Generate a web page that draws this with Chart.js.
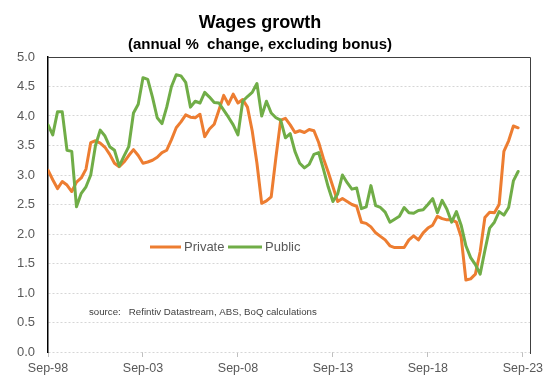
<!DOCTYPE html>
<html>
<head>
<meta charset="utf-8">
<script src="https://cdn.jsdelivr.net/npm/chart.js@4"></script>
<style>
  html, body { margin: 0; padding: 0; background: #fff; }
  #wrap { width: 553px; height: 378px; position: relative; }
</style>
</head>
<body>
<div id="wrap"><canvas id="wages-chart" width="553" height="378"></canvas></div>
<script>
// quarterly, annual % change excl. bonus, Sep-98 .. Jun-23
const privateWages = [
  3.08, 2.92, 2.77, 2.89, 2.83, 2.72, 2.88, 2.95, 3.1, 3.55,
  3.58, 3.54, 3.47, 3.35, 3.2, 3.14, 3.22, 3.33, 3.43, 3.33,
  3.2, 3.22, 3.25, 3.3, 3.38, 3.42, 3.6, 3.8, 3.9, 4.02,
  3.98, 3.97, 4.03, 3.65, 3.78, 3.86, 4.1, 4.35, 4.2, 4.37,
  4.22, 4.28, 4.15, 3.75, 3.2, 2.52, 2.56, 2.63, 3.3, 3.93,
  3.96, 3.85, 3.72, 3.75, 3.72, 3.77, 3.75, 3.55, 3.28, 3.05,
  2.8, 2.55, 2.6, 2.55, 2.5, 2.47, 2.2, 2.18, 2.12, 2.02,
  1.96, 1.9, 1.8, 1.77, 1.77, 1.77, 1.9, 1.97, 1.9, 2.02,
  2.1, 2.15, 2.3, 2.26, 2.24, 2.24, 2.2, 1.95, 1.22, 1.24,
  1.32, 1.7, 2.28, 2.37, 2.36, 2.5, 3.4, 3.58, 3.83, 3.8
];
const publicWages = [
  3.85, 3.68, 4.07, 4.07, 3.42, 3.4, 2.46, 2.69, 2.8, 3.0,
  3.5, 3.76, 3.66, 3.48, 3.42, 3.15, 3.32, 3.48, 4.05, 4.2,
  4.65, 4.62, 4.32, 3.97, 3.87, 4.15, 4.5, 4.7, 4.68, 4.57,
  4.15, 4.25, 4.22, 4.4, 4.32, 4.23, 4.22, 4.1, 3.98, 3.85,
  3.68, 4.25, 4.33, 4.4, 4.55, 4.0, 4.25, 4.05, 3.97, 3.93,
  3.63, 3.7, 3.4, 3.2, 3.12, 3.18, 3.35, 3.38, 3.1, 2.8,
  2.55, 2.68, 3.0, 2.87, 2.76, 2.78, 2.43, 2.46, 2.82, 2.48,
  2.45, 2.37, 2.2, 2.25, 2.3, 2.45, 2.36, 2.35, 2.4, 2.41,
  2.5, 2.6, 2.36, 2.57, 2.42, 2.2, 2.38, 2.15, 1.8, 1.6,
  1.48, 1.32, 1.72, 2.1, 2.2, 2.38, 2.32, 2.45, 2.9, 3.06
];
// x tick labels, one every 20 quarters
const xTickLabels = ["Sep-98", "Sep-03", "Sep-08", "Sep-13", "Sep-18", "Sep-23"];
const xTickStep = 20;

const ORANGE = "#ED7D31";
const GREEN = "#70AD47";
const GREY = "#595959";
const FONT = "'Liberation Sans', Arial, sans-serif";

const toPoints = (arr) => arr.map((v, i) => ({ x: i, y: v }));

// titles, legend, source note and plot frame
const decorations = {
  id: "decorations",
  afterDraw(chart) {
    const ctx = chart.ctx;
    const a = chart.chartArea;
    ctx.save();
    ctx.fillStyle = "#000";
    ctx.textAlign = "center";
    ctx.textBaseline = "alphabetic";
    ctx.font = "bold 18px " + FONT;
    ctx.fillText("Wages growth", 260, 28);
    ctx.font = "bold 15px " + FONT;
    ctx.fillText("(annual %  change, excluding bonus)", 260, 49);

    // frame top and right
    ctx.strokeStyle = "#404040";
    ctx.lineWidth = 1;
    ctx.beginPath();
    ctx.moveTo(a.left, a.top + 0.5);
    ctx.lineTo(a.right + 0.5, a.top + 0.5);
    ctx.lineTo(a.right + 0.5, a.bottom + 2);
    ctx.stroke();

    // legend
    const items = [
      { text: "Private", color: ORANGE, x0: 150, x1: 181 },
      { text: "Public", color: GREEN, x0: 228, x1: 262 }
    ];
    ctx.lineWidth = 3;
    ctx.textAlign = "left";
    ctx.textBaseline = "middle";
    ctx.font = "13px " + FONT;
    items.forEach((it) => {
      ctx.strokeStyle = it.color;
      ctx.beginPath();
      ctx.moveTo(it.x0, 247);
      ctx.lineTo(it.x1, 247);
      ctx.stroke();
      ctx.fillStyle = GREY;
      ctx.fillText(it.text, it.x1 + 3, 247);
    });

    ctx.font = "9.7px " + FONT;
    ctx.fillStyle = "#404040";
    ctx.fillText("source:   Refintiv Datastream, ABS, BoQ calculations", 89, 312);
    ctx.restore();
  }
};

const chart = new Chart(document.getElementById("wages-chart").getContext("2d"), {
  type: "line",
  data: {
    datasets: [
      {
        label: "Private",
        data: toPoints(privateWages),
        borderColor: ORANGE,
        borderWidth: 3,
        pointRadius: 0,
        tension: 0,
        borderJoinStyle: "round",
        borderCapStyle: "round",
        order: 1
      },
      {
        label: "Public",
        data: toPoints(publicWages),
        borderColor: GREEN,
        borderWidth: 3,
        pointRadius: 0,
        tension: 0,
        borderJoinStyle: "round",
        borderCapStyle: "round",
        order: 0
      }
    ]
  },
  options: {
    responsive: false,
    animation: false,
    layout: { padding: { top: 57, right: 23, left: 0, bottom: 0 } },
    plugins: {
      legend: { display: false },
      tooltip: { enabled: false }
    },
    scales: {
      x: {
        type: "linear",
        min: 0,
        max: 101.5,
        afterBuildTicks(scale) {
          scale.ticks = xTickLabels.map((_, i) => ({ value: i * xTickStep }));
        },
        afterFit(scale) {
          scale.height = 26;
        },
        ticks: {
          autoSkip: false,
          maxRotation: 0,
          padding: 4,
          color: GREY,
          font: { family: FONT, size: 12.5 },
          callback: (v) => xTickLabels[Math.round(v / xTickStep)]
        },
        grid: {
          drawOnChartArea: false,
          drawTicks: true,
          tickLength: 5,
          color: "#bfbfbf"
        },
        border: { display: false }
      },
      y: {
        min: 0,
        max: 5,
        afterFit(scale) {
          scale.width = 48;
        },
        ticks: {
          stepSize: 0.5,
          padding: 13,
          color: GREY,
          font: { family: FONT, size: 13 },
          callback: (v) => v.toFixed(1)
        },
        grid: {
          drawTicks: false,
          color: "#d6d6d6",
          lineWidth: 1
        },
        border: { display: true, color: "#000", width: 1.5, dash: [2, 2] }
      }
    }
  },
  plugins: [decorations]
});
</script>
</body>
</html>
